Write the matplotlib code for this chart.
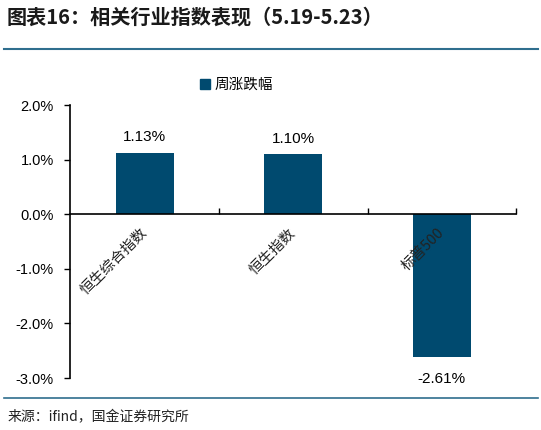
import matplotlib
matplotlib.use("Agg")
import matplotlib.pyplot as plt
from matplotlib.lines import Line2D

plt.rcParams['font.family'] = ['Noto Sans CJK SC', 'DejaVu Sans']

# data
categories = ['恒生综合指数', '恒生指数', '标普500']
weekly_change = [1.13, 1.10, -2.61]
series_name = '周涨跌幅'
y_ticks = [2.0, 1.0, 0.0, -1.0, -2.0, -3.0]

bar_color = '#004A6F'
line_color = '#2F6E8E'

fig = plt.figure(figsize=(5.41, 4.30), dpi=100)
ax = fig.add_axes([0.1303, 0.1209, 0.8235, 0.6349])

x = list(range(len(categories)))
bars = ax.bar(x, weekly_change, width=0.39, color=bar_color, label=series_name, zorder=2)

ax.set_xlim(-0.5, len(categories) - 0.5)
ax.set_ylim(-3, 2)
ax.set_yticks(y_ticks)
ax.set_yticklabels([f'{v:.1f}%' for v in y_ticks], family='Liberation Sans', fontsize=10.5)
ax.tick_params(axis='y', direction='out', length=4, width=1, pad=8)

# category axis sits at zero with inward ticks between categories
ax.spines['top'].set_visible(False)
ax.spines['right'].set_visible(False)
ax.spines['bottom'].set_position(('data', 0))
ax.spines['left'].set_linewidth(1.2)
ax.spines['bottom'].set_linewidth(1.2)
ax.set_xticks([i + 0.5 for i in range(len(categories))])
ax.set_xticklabels([])
ax.tick_params(axis='x', direction='in', length=4, width=1)

# rotated category labels just below zero line
for i, name in enumerate(categories):
    ax.annotate(name, xy=(i, 0), xytext=(0, -12), textcoords='offset points',
                rotation=45, ha='right', va='center', rotation_mode='anchor',
                fontsize=10.5, color='#222222', zorder=3)

# value labels
for i, v in enumerate(weekly_change):
    off = 11 if v >= 0 else -16
    ax.annotate(f'{v:.2f}%', xy=(i, v), xytext=(0, off), textcoords='offset points',
                ha='center', va='center', family='Liberation Sans', fontsize=11)

handle = Line2D([], [], marker='s', linestyle='none', color=bar_color, markersize=7)
fig.legend([handle], [series_name], loc='center', bbox_to_anchor=(0.435, 0.802),
           frameon=False, fontsize=10.5, handletextpad=0.1, handlelength=1.0)

# title, separator lines and source
fig.text(0.013, 0.960, '图表16：相关行业指数表现（5.19-5.23）', fontsize=14.5,
         fontweight='bold', fontstyle='italic', color='#1a1a1a', va='center', ha='left')
fig.add_artist(Line2D([0.008, 0.995], [0.886, 0.886], color=line_color, linewidth=1.5))
fig.add_artist(Line2D([0.008, 0.995], [0.074, 0.074], color=line_color, linewidth=1.2))
fig.text(0.013, 0.030, '来源：ifind，国金证券研究所', fontsize=10, color='#222222',
         va='center', ha='left')

fig.savefig('out.png', dpi=100)
